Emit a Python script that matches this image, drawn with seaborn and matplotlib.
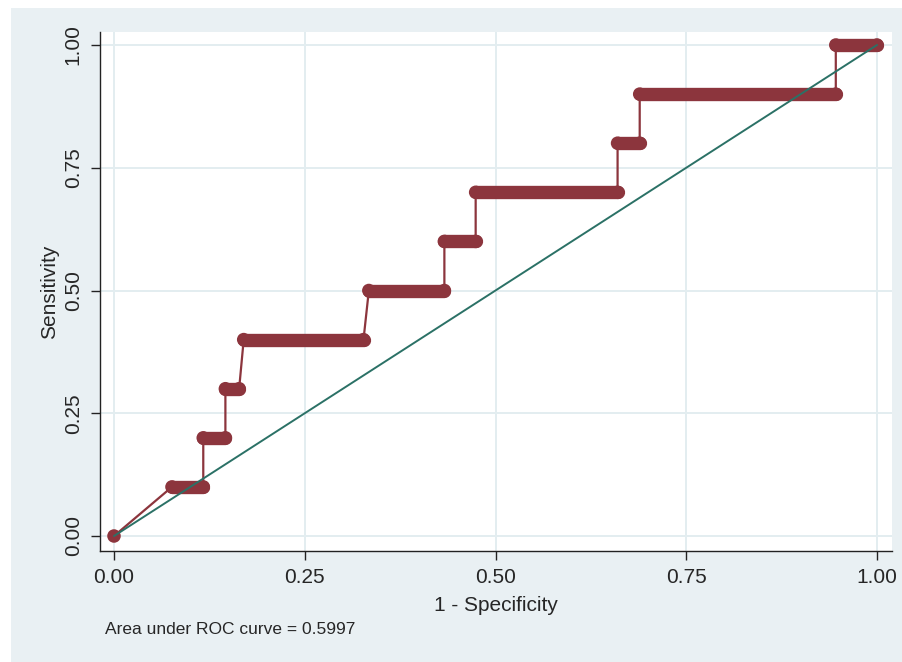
import matplotlib
matplotlib.use("Agg")
import matplotlib.pyplot as plt
from matplotlib.patches import Rectangle
import seaborn as sns
import pandas as pd

# ROC corner points
fpr = [0.0, 0.076, 0.117, 0.117, 0.146, 0.146, 0.164, 0.170, 0.327, 0.334,
       0.433, 0.433, 0.474, 0.474, 0.660, 0.660, 0.689, 0.689, 0.946, 0.946, 1.0]
tpr = [0.0, 0.1, 0.1, 0.2, 0.2, 0.3, 0.3, 0.4, 0.4, 0.5,
       0.5, 0.6, 0.6, 0.7, 0.7, 0.8, 0.8, 0.9, 0.9, 1.0, 1.0]
ref_x = [0.0, 1.0]
ref_y = [0.0, 1.0]
ticks = [0.0, 0.25, 0.5, 0.75, 1.0]
tick_labels = ["0.00", "0.25", "0.50", "0.75", "1.00"]
auc_text = "Area under ROC curve = 0.5997"

RED = "#8C353D"
TEAL = "#2B7166"
BG = "#E9F0F3"
GRID = "#E3EDF0"

sns.set_style("white")
plt.rcParams["font.family"] = ["Liberation Sans", "DejaVu Sans"]

fig = plt.figure(figsize=(9.03, 6.62), dpi=100)
fig.patch.set_facecolor(BG)
fig.patches.append(Rectangle((0, 1 - 8 / 662), 1, 8 / 662, transform=fig.transFigure,
                             facecolor="white", edgecolor="none", zorder=-1))
fig.patches.append(Rectangle((0, 0), 11 / 903, 1, transform=fig.transFigure,
                             facecolor="white", edgecolor="none", zorder=-1))

ax = fig.add_axes([100 / 903, (662 - 551) / 662, (892 - 100) / 903, (551 - 32) / 662])
ax.set_facecolor("white")

df = pd.DataFrame({"fpr": fpr, "tpr": tpr})

# thin connecting line
sns.lineplot(data=df, x="fpr", y="tpr", sort=False, estimator=None, color=RED,
             lw=1.6, ax=ax, zorder=3)
# dense marker runs drawn as thick round-capped segments
for level, grp in df.groupby("tpr"):
    x0, x1 = grp["fpr"].min(), grp["fpr"].max()
    ax.plot([x0, x1], [level, level], color=RED, lw=9.6, solid_capstyle="round", zorder=4)
sns.scatterplot(data=df, x="fpr", y="tpr", color=RED, s=95, edgecolor="none",
                ax=ax, zorder=4)
# reference line
sns.lineplot(x=ref_x, y=ref_y, color=TEAL, lw=1.4, ax=ax, zorder=5)

ax.set_xlim((100 - 114) / 763, (892 - 114) / 763)
ax.set_ylim((536 - 551) / 491, (536 - 32) / 491)
ax.set_xticks(ticks)
ax.set_xticklabels(tick_labels)
ax.set_yticks(ticks)
ax.set_yticklabels(tick_labels, rotation=90, va="center")
ax.grid(True, color=GRID, lw=1.4)
ax.set_axisbelow(True)
for s in ["top", "right"]:
    ax.spines[s].set_visible(False)
for s in ["left", "bottom"]:
    ax.spines[s].set_color("#222222")
    ax.spines[s].set_linewidth(1.0)
ax.tick_params(axis="both", direction="out", length=6.5, width=1.0, color="#222222",
               labelsize=15, pad=6, left=True, bottom=True)
ax.set_xlabel("1 - Specificity", fontsize=15, labelpad=6)
ax.set_ylabel("Sensitivity", fontsize=15, labelpad=3)

fig.text(105 / 903, 1 - 630 / 662, auc_text, fontsize=12.5, va="center", ha="left")

fig.savefig("out.png", dpi=100, facecolor=fig.get_facecolor())
